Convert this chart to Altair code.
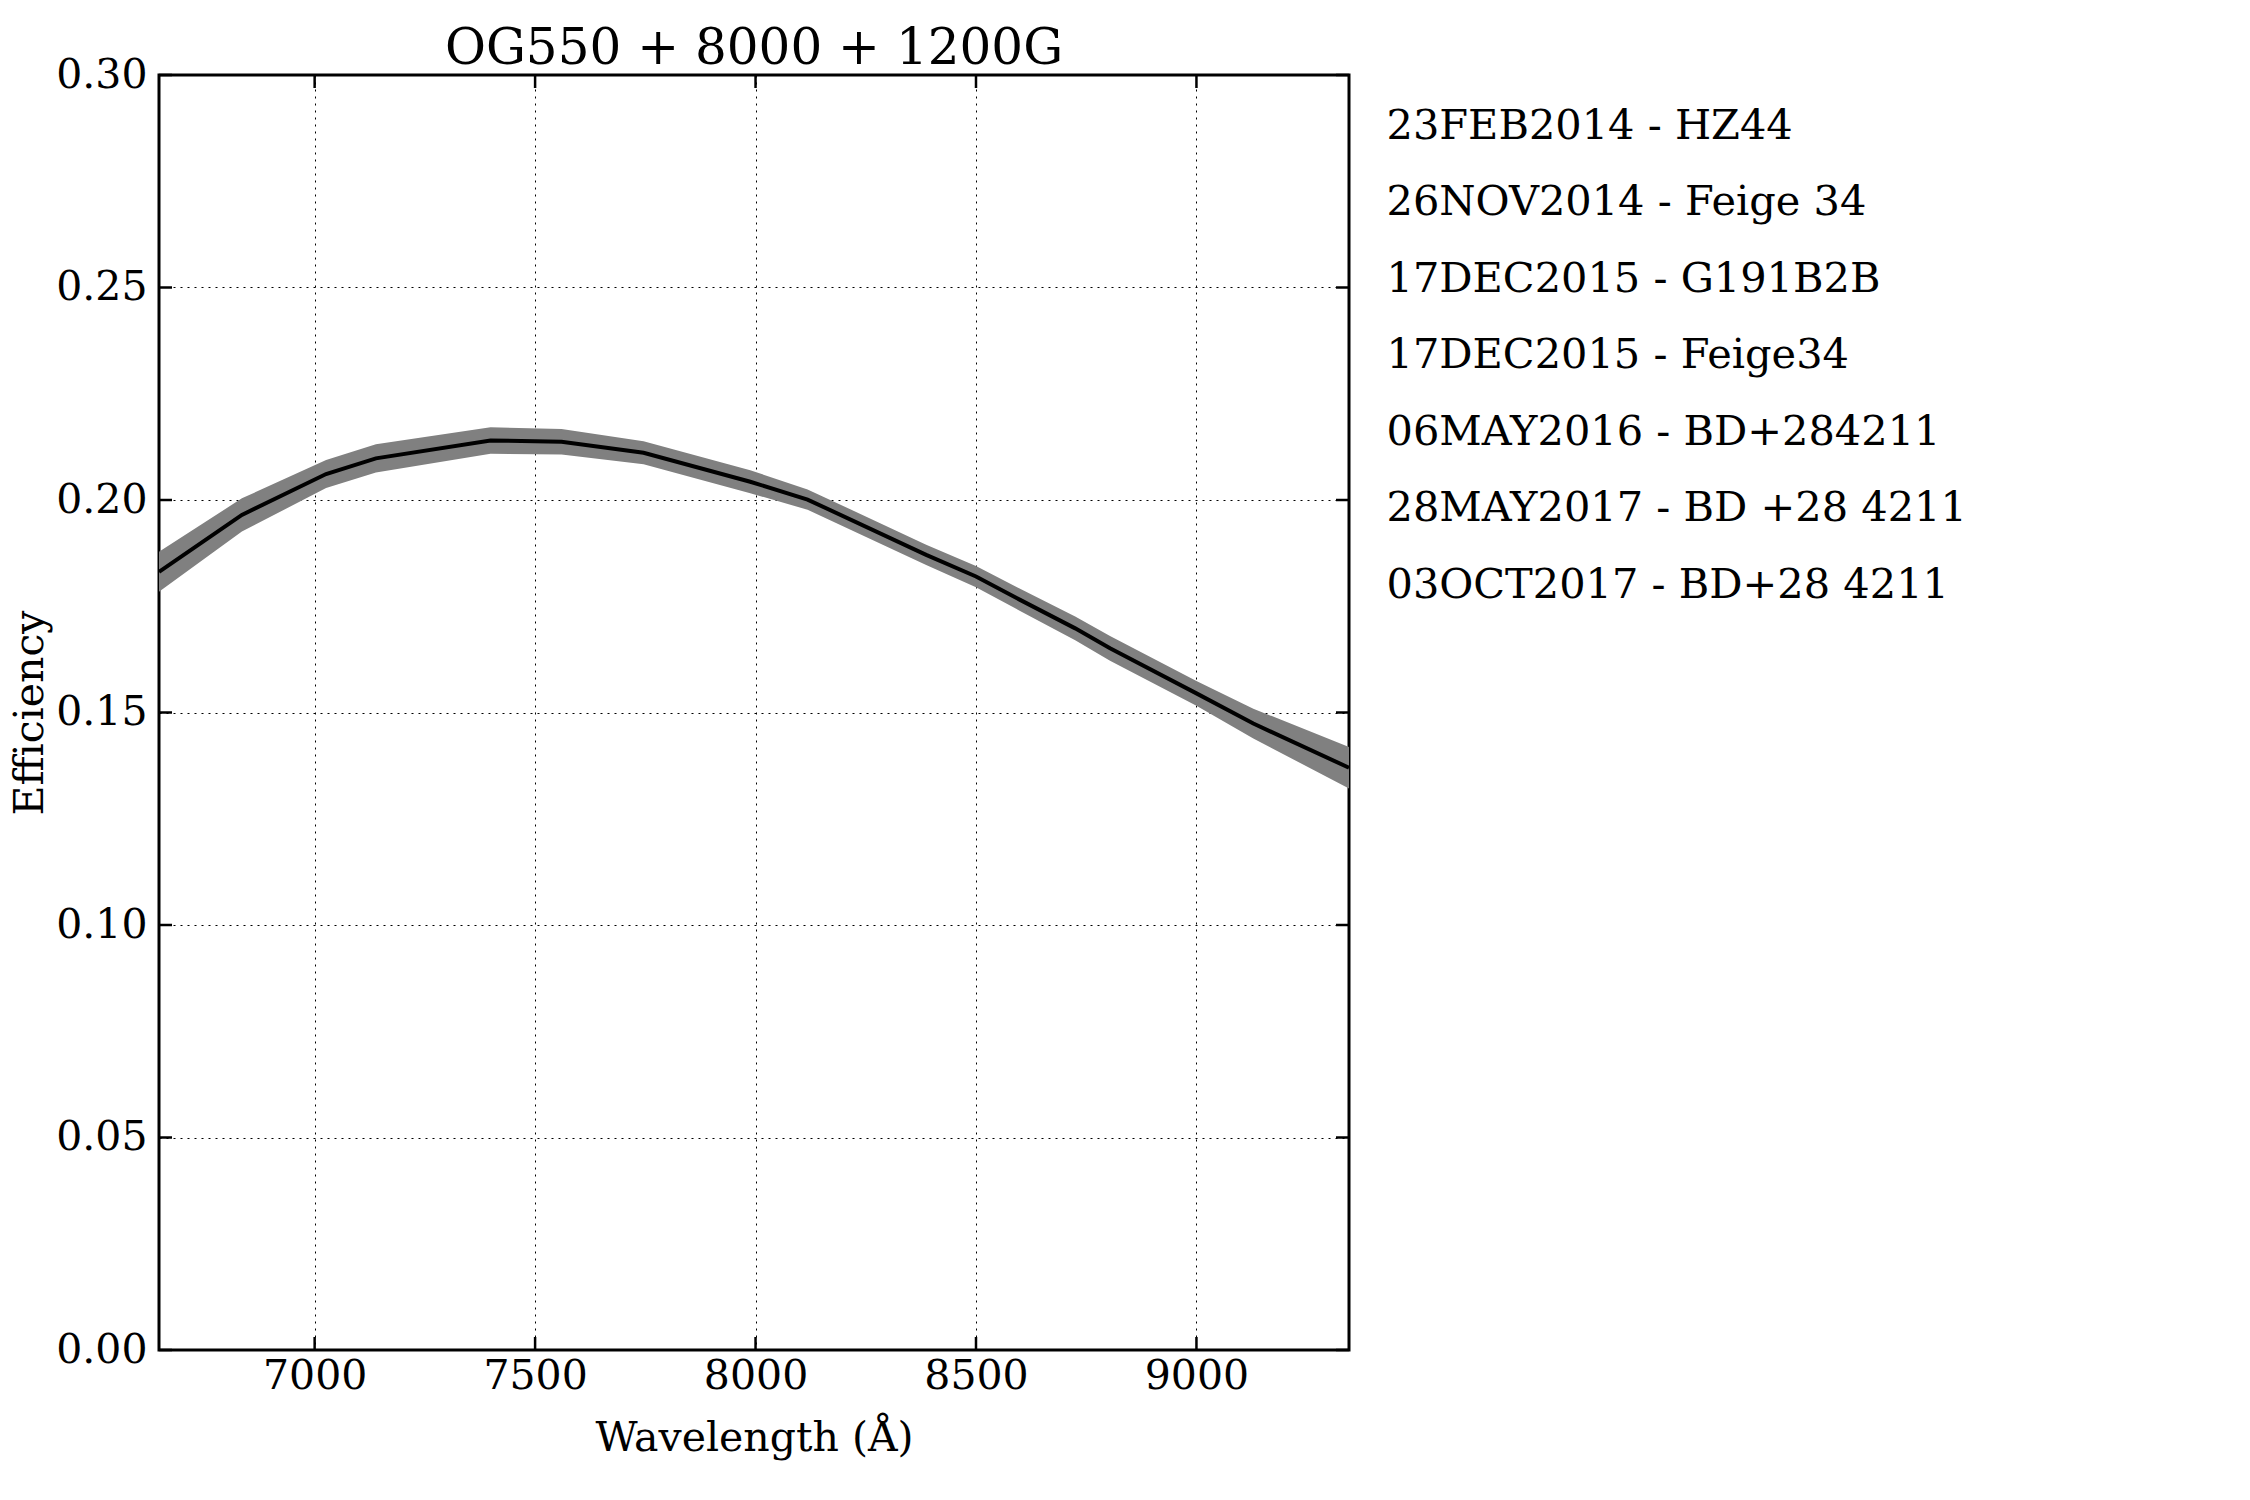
import altair as alt
import pandas as pd

# ---- data ----
wavelength = [6647, 6835, 7026, 7139, 7399, 7560, 7746, 7988, 8118, 8387,
              8500, 8600, 8725, 8804, 9000, 9129, 9346]
efficiency = [0.1831, 0.1965, 0.2061, 0.2098, 0.2140, 0.2137, 0.2111, 0.2043,
              0.2001, 0.1871, 0.1820, 0.1765, 0.1698, 0.1651, 0.1545, 0.1474,
              0.1370]
err = [0.0047, 0.0039, 0.0033, 0.0033, 0.0031, 0.0030, 0.0027, 0.0027,
       0.0024, 0.0024, 0.0025, 0.0026, 0.0028, 0.0029, 0.0029, 0.0035,
       0.0049]

labels = ["23FEB2014 - HZ44", "26NOV2014 - Feige 34", "17DEC2015 - G191B2B",
          "17DEC2015 - Feige34", "06MAY2016 - BD+284211",
          "28MAY2017 - BD +28 4211", "03OCT2017 - BD+28 4211"]

x_ticks = [7000, 7500, 8000, 8500, 9000]
y_ticks = [0.0, 0.05, 0.10, 0.15, 0.20, 0.25, 0.30]

title_text = "OG550 + 8000 + 1200G"
x_title = "Wavelength (Å)"
y_title = "Efficiency"

# ---- layout / style ----
W, H = 1190, 1275
TL = 13
FONT = "DejaVu Serif"
FS = 41

df = pd.DataFrame({"wavelength": wavelength, "efficiency": efficiency, "err": err})
df["lower"] = df["efficiency"] - df["err"]
df["upper"] = df["efficiency"] + df["err"]

xscale = alt.Scale(domain=[wavelength[0], wavelength[-1]], nice=False, zero=False)
yscale = alt.Scale(domain=[0, 0.30], nice=False, zero=False)

xaxis = alt.Axis(values=x_ticks, format="d", title=x_title, grid=True,
                 ticks=False, tickSize=0, domain=False, labelPadding=6,
                 titlePadding=22)
yaxis = alt.Axis(values=y_ticks, format=".2f", title=y_title, grid=True,
                 ticks=False, tickSize=0, domain=False, labelPadding=12,
                 titlePadding=4)

base = alt.Chart(df)

band = base.mark_area(color="#808080", opacity=1).encode(
    x=alt.X("wavelength:Q", scale=xscale, axis=xaxis),
    y=alt.Y("lower:Q", scale=yscale, axis=yaxis),
    y2="upper:Q",
)

line = base.mark_line(color="black", strokeWidth=4).encode(
    x=alt.X("wavelength:Q", scale=xscale),
    y=alt.Y("efficiency:Q", scale=yscale),
)

xt_df = pd.DataFrame({"wavelength": x_ticks})
yt_df = pd.DataFrame({"efficiency": y_ticks})

xt_top = alt.Chart(xt_df).mark_rule(color="black", strokeWidth=2.5).encode(
    x=alt.X("wavelength:Q", scale=xscale), y=alt.value(0), y2=alt.value(TL))
xt_bot = alt.Chart(xt_df).mark_rule(color="black", strokeWidth=2.5).encode(
    x=alt.X("wavelength:Q", scale=xscale), y=alt.value(H - TL), y2=alt.value(H))
yt_left = alt.Chart(yt_df).mark_rule(color="black", strokeWidth=2.5).encode(
    y=alt.Y("efficiency:Q", scale=yscale), x=alt.value(0), x2=alt.value(TL))
yt_right = alt.Chart(yt_df).mark_rule(color="black", strokeWidth=2.5).encode(
    y=alt.Y("efficiency:Q", scale=yscale), x=alt.value(W - TL), x2=alt.value(W))

leg = alt.Chart(pd.DataFrame({"label": labels})).mark_point(opacity=0).encode(
    x=alt.value(0), y=alt.value(0),
    color=alt.Color("label:N",
                    scale=alt.Scale(domain=labels, range=["black"] * len(labels)),
                    legend=alt.Legend(title=None, orient="none", legendX=1186,
                                      legendY=31, symbolSize=0, symbolOpacity=0,
                                      symbolStrokeWidth=0, labelOffset=0,
                                      rowPadding=33.5, labelFontSize=41.5,
                                      labelFont=FONT, labelColor="black",
                                      labelLimit=1000)),
)

chart = alt.layer(band, line, xt_top, xt_bot, yt_left, yt_right, leg).properties(
    width=W, height=H,
    background="white",
    title=alt.TitleParams(title_text, fontSize=50, font=FONT, fontWeight="normal",
                          color="black", anchor="middle", offset=-4, dy=16),
    autosize=alt.AutoSizeParams(type="none"),
    padding={"left": 151, "top": 67, "right": 893, "bottom": 142},
).configure_view(
    stroke="black", strokeWidth=3
).configure_axis(
    labelFont=FONT, labelFontSize=FS, labelColor="black",
    titleFont=FONT, titleFontSize=FS, titleColor="black", titleFontWeight="normal",
    gridColor="black", gridDash=[2, 5], gridWidth=1, gridOpacity=1,
)

chart.save("out.html", embed_options={"renderer": "svg", "actions": False})
